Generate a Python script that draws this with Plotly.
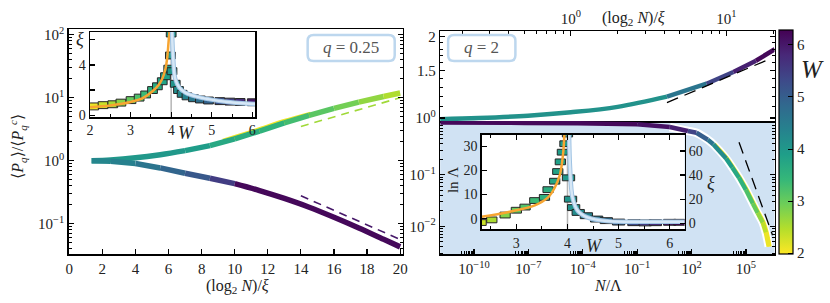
import plotly.graph_objects as go

FIG_W, FIG_H = 830, 303
FONT = "Liberation Serif, DejaVu Serif, serif"

# ---------------- data ----------------
W_LO, W_HI = 1.98, 6.28          # colour range of disorder W
W_TICKS = [2, 3, 4, 5, 6]
W_C = 4.0                        # critical W (grey line in insets)

# left panel (q = 0.25): (log2 N)/xi  vs <P_q>/<P_q^c>
up_x = [1.35, 2.5, 4.0, 5.5, 7.0, 8.5, 10.0, 11.5, 13.0, 14.5, 16.0, 17.5, 19.0, 20.0]
up_y = [1.0, 1.028, 1.109, 1.245, 1.445, 1.738, 2.213, 2.951, 3.981, 5.248, 6.761, 8.511, 10.47, 11.89]
up_w = [4.0, 4.0, 4.0, 4.0, 3.9, 3.7, 3.6, 3.5, 3.3, 3.1, 2.9, 2.7, 2.5]   # per segment
yel_x = [9.3, 11.5, 13.0, 14.6]
yel_y = [2.05, 3.1, 4.2, 5.5]
YEL_W = 2.05
lo_x = [1.35, 2.5, 4.0, 5.5, 7.0, 8.5, 10.0, 11.5, 13.0, 14.5, 16.0, 17.5, 19.0, 20.0]
lo_y = [1.0, 0.977, 0.902, 0.767, 0.631, 0.525, 0.431, 0.335, 0.251, 0.182, 0.126, 0.0851, 0.0562, 0.0427]
lo_w = [4.3, 4.4, 4.6, 4.9, 5.1, 5.5, 6.2, 6.2, 6.2, 6.2, 6.2, 6.2, 6.2]
dash_up_x = [14.0, 20.0]
dash_up_y = [3.5, 10.0]
DASH_UP_W = 2.6
dash_lo_x = [14.0, 20.0]
dash_lo_y = [0.277, 0.056]
DASH_LO_W = 6.0

# left inset: xi vs W
li_w = [2.09, 2.32, 2.56, 2.76, 3.01, 3.21, 3.37, 3.54, 3.66, 3.78, 3.86, 3.94, 3.98, 4.0,
        4.02, 4.1, 4.18, 4.27, 4.39, 4.55, 4.72, 4.92, 5.2, 5.45, 5.7, 6.0]
li_xi = [0.7, 0.8, 0.87, 1.0, 1.2, 1.4, 1.65, 2.0, 2.3, 2.7, 3.1, 3.7, 4.75, 6.5,
         3.5, 2.5, 2.0, 1.7, 1.5, 1.35, 1.25, 1.17, 1.12, 1.08, 1.05, 1.03]
li_fit_l_w = [2.0, 2.5, 3.0, 3.3, 3.54, 3.7, 3.78, 3.86, 3.9, 3.94, 3.96]
li_fit_l_xi = [0.64, 0.78, 1.05, 1.35, 1.9, 2.45, 2.9, 3.7, 4.5, 6.0, 6.7]
li_fit_r_w = [4.02, 4.05, 4.1, 4.2, 4.35, 4.6, 4.92, 5.4, 6.07]
li_fit_r_xi = [6.7, 4.5, 2.9, 2.2, 1.8, 1.5, 1.28, 1.05, 0.9]

# right top panel (q = 2): (log2 N)/xi vs ratio
ru_x = [0.144, 0.255, 0.53, 1.0, 2.0, 4.15, 7.46, 11.1, 15.5, 20.5]
ru_y = [0.99, 1.0, 1.02, 1.05, 1.10, 1.20, 1.34, 1.48, 1.63, 1.80]
ru_w = [4.1, 4.1, 4.1, 4.1, 4.1, 4.6, 5.4, 5.9, 6.2]
ru_dash_x = [4.15, 18.8]
ru_dash_y = [1.14, 1.65]

# right bottom panel: log10(N/Lambda) vs log10(ratio)
rl_lx = [-11.86, -8.0, -4.27, -1.0, 0.8, 1.8, 2.27, 2.9, 3.2, 3.91, 4.25, 4.62, 5.0, 5.38, 5.65, 5.93, 6.1, 6.26]
rl_ly = [0.012, 0.008, 0.0, -0.02, -0.074, -0.15, -0.185, -0.32, -0.407, -0.685, -0.86, -1.056, -1.29,
         -1.556, -1.74, -1.926, -2.12, -2.39]
rl_w = [6.2, 6.2, 6.2, 6.1, 5.9, 5.4, 5.0, 4.6, 4.2, 3.9, 3.7, 3.5, 3.2, 3.0, 2.7, 2.4, 2.1]
rl_dash_lx = [4.62, 6.47]
rl_dash_ly = [-0.37, -2.17]

# right inset: ln Lambda (left axis) and xi (right axis) vs W
ri_sq_w = [2.31, 2.52, 2.78, 3.0, 3.17, 3.36, 3.55, 3.62, 3.75, 3.81, 3.86, 3.9, 3.95, 4.0]
ri_sq_lnl = [-1.6, -0.5, 1.5, 3.5, 4.8, 7.5, 8.8, 12.0, 15.5, 19.5, 23.5, 27.5, 31.0, 35.0]
ri_xi_w = [4.02, 4.06, 4.12, 4.21, 4.37, 4.57, 4.76, 5.0, 5.3, 5.52, 5.72, 6.0, 6.2]
ri_xi = [37.7, 20.0, 13.0, 9.0, 6.3, 3.5, 2.2, 1.0, 0.5, 0.3, 0.5, 0.8, 0.8]
ri_fit_l_w = [2.32, 2.85, 3.36, 3.62, 3.75, 3.85, 3.91, 3.94]
ri_fit_l_lnl = [0.8, 2.8, 5.5, 8.8, 12.8, 18.0, 26.0, 35.0]
ri_fit_r_w = [4.03, 4.05, 4.1, 4.2, 4.39, 4.77, 5.35, 6.29]
ri_fit_r_xi = [75.0, 46.0, 21.0, 10.4, 4.9, 1.8, 1.3, 1.2]

# tick labels
LEFT_Y_TICKS = [0.1, 1, 10, 100]
LEFT_Y_TEXT = ["10<sup>−1</sup>", "10<sup>0</sup>", "10<sup>1</sup>", "10<sup>2</sup>"]
TOP_X_TICKS = [1, 10]
TOP_X_TEXT = ["10<sup>0</sup>", "10<sup>1</sup>"]
RU_Y_TICKS = [1, 1.5, 2]
RU_Y_TEXT = ["10<sup>0</sup>", "1.5", "2"]
RL_X_EXP = [-10, -7, -4, -1, 2, 5]
RL_Y_TICKS = [0.01, 0.1]
RL_Y_TEXT = ["10<sup>−2</sup>", "10<sup>−1</sup>"]

# ---------------- helpers ----------------
VIRIDIS = ['#440154', '#482878', '#3e4989', '#31688e', '#26828e',
           '#1f9e89', '#35b779', '#6ece58', '#b5de2b', '#fde725']


def hex2rgb(h):
    return tuple(int(h[i:i + 2], 16) for i in (1, 3, 5))


def wcolor(w):
    t = (W_HI - w) / (W_HI - W_LO)
    t = min(max(t, 0.0), 1.0)
    n = len(VIRIDIS) - 1
    i = min(int(t * n), n - 1)
    f = t * n - i
    a, b = hex2rgb(VIRIDIS[i]), hex2rgb(VIRIDIS[i + 1])
    return "rgb(%d,%d,%d)" % tuple(round(a[k] + (b[k] - a[k]) * f) for k in range(3))


def px(x):
    return x / FIG_W


def py(y):
    return 1 - y / FIG_H


fig = go.Figure()


def colored_line(xs, ys, ws, xa, ya, width):
    n = len(xs)
    j = 0
    while j < n - 1:
        k = j
        while k + 1 < n - 1 and ws[k + 1] == ws[j]:
            k += 1
        fig.add_trace(go.Scatter(x=xs[j:k + 2], y=ys[j:k + 2], mode="lines",
                                 line=dict(color=wcolor(ws[j]), width=width, shape="spline"),
                                 xaxis=xa, yaxis=ya, hoverinfo="skip"))
        j = k + 1


def line(xs, ys, xa, ya, color, width, dash="solid", shape="linear"):
    fig.add_trace(go.Scatter(x=xs, y=ys, mode="lines",
                             line=dict(color=color, width=width, dash=dash, shape=shape),
                             xaxis=xa, yaxis=ya, hoverinfo="skip"))


def rect_markers(ws, vals, h, wd, xa, ya):
    fig.add_trace(go.Bar(x=ws, y=[h] * len(ws), base=[v - h / 2 for v in vals], width=wd,
                         marker=dict(color=ws, coloraxis="coloraxis",
                                     line=dict(color="#262626", width=1)),
                         xaxis=xa, yaxis=ya, cliponaxis=False, hoverinfo="skip"))


ORANGE = "#f7a531"
LBLUE_IN = "#d6e7f6"
LBLUE_OUT = "#9fc3e3"

# ---------------- left panel ----------------
line(yel_x, yel_y, "x", "y", wcolor(YEL_W), 5, shape="spline")
colored_line(up_x, up_y, up_w, "x", "y", 5.5)
colored_line(lo_x, lo_y, lo_w, "x", "y", 5.5)
line(dash_up_x, dash_up_y, "x", "y", wcolor(DASH_UP_W), 1.6, dash="8px,6px")
line(dash_lo_x, dash_lo_y, "x", "y", wcolor(DASH_LO_W), 1.6, dash="8px,6px")

# left inset
rect_markers(li_w, li_xi, 0.55, 0.24, "x2", "y2")
line(li_fit_l_w, li_fit_l_xi, "x2", "y2", ORANGE, 2.5, shape="spline")
line(li_fit_r_w, li_fit_r_xi, "x2", "y2", LBLUE_OUT, 4.5, shape="spline")
line(li_fit_r_w, li_fit_r_xi, "x2", "y2", LBLUE_IN, 2.5, shape="spline")

# ---------------- right top ----------------
colored_line(ru_x, ru_y, ru_w, "x3", "y3", 4.5)
line(ru_dash_x, ru_dash_y, "x3", "y3", "black", 1.3, dash="12px,7px")

# ---------------- right bottom ----------------
rl_x = [10 ** v for v in rl_lx]
rl_y = [10 ** v for v in rl_ly]
line(rl_x[4:], rl_y[4:], "x4", "y4", "white", 8.5, shape="spline")
line([10 ** (v + 0.05) for v in rl_lx[8:]], rl_y[8:], "x4", "y4", wcolor(2.0), 4, shape="spline")
colored_line(rl_x, rl_y, rl_w, "x4", "y4", 4.5)
line([10 ** v for v in rl_dash_lx], [10 ** v for v in rl_dash_ly], "x4", "y4", "black", 1.3, dash="12px,7px")

# right inset
rect_markers(ri_sq_w, ri_sq_lnl, 2.4, 0.2, "x5", "y5")
rect_markers(ri_xi_w, ri_xi, 4.9, 0.24, "x5", "y6")
line(ri_fit_l_w, ri_fit_l_lnl, "x5", "y5", ORANGE, 2.5, shape="spline")
line(ri_fit_r_w, ri_fit_r_xi, "x5", "y6", LBLUE_OUT, 4.5, shape="spline")
line(ri_fit_r_w, ri_fit_r_xi, "x5", "y6", LBLUE_IN, 2.5, shape="spline")

# ---------------- axes ----------------
TICKFONT = dict(family=FONT, size=15, color="#222")
INFONT = dict(family=FONT, size=14, color="#222")


def ax(**kw):
    base = dict(showline=True, linecolor="black", linewidth=1.5, ticks="inside", ticklen=5,
                tickwidth=1.2, tickcolor="black", showgrid=False, zeroline=False,
                tickfont=TICKFONT, mirror=True)
    base.update(kw)
    return base


def minor(vals, ln=3):
    return dict(tickmode="array", tickvals=vals, ticks="inside", ticklen=ln,
                tickcolor="black", tickwidth=1, showgrid=False)


dec_minor = lambda e0, e1: [k * 10.0 ** e for e in range(e0, e1) for k in range(2, 10)]

layout_axes = dict(
    xaxis=ax(domain=[px(65.5), px(403)], range=[-0.03, 20.15], tickvals=list(range(0, 21, 2)),
             anchor="y"),
    yaxis=ax(domain=[py(259), py(26)], type="log", range=[-1.49, 2.09], tickvals=LEFT_Y_TICKS,
             ticktext=LEFT_Y_TEXT, anchor="x", mirror="ticks", minor=minor(dec_minor(-2, 3))),
    xaxis2=ax(domain=[px(87), px(254)], range=[2, 6.073], tickvals=W_TICKS, anchor="y2",
              tickfont=INFONT, minor=minor([2.5, 3.5, 4.5, 5.5])),
    yaxis2=ax(domain=[py(117), py(29)], range=[-0.154, 6.615], tickvals=[0, 2, 4, 6],
              ticktext=["0", "", "4", ""], anchor="x2", tickfont=INFONT),
    xaxis3=ax(domain=[px(441), px(779)], type="log", range=[-0.84, 1.31], side="top",
              tickvals=TOP_X_TICKS, ticktext=TOP_X_TEXT, anchor="y3",
              minor=minor(dec_minor(-1, 2))),
    yaxis3=ax(domain=[py(121), py(28)], type="log", range=[-0.011, 0.322], tickvals=RU_Y_TICKS,
              ticktext=RU_Y_TEXT, anchor="x3", mirror="ticks",
              minor=minor([1.1, 1.2, 1.3, 1.4, 1.6, 1.7, 1.8, 1.9])),
    xaxis4=ax(domain=[px(441), px(779)], type="log", range=[-11.86, 6.58],
              tickvals=[10.0 ** e for e in RL_X_EXP],
              ticktext=["10<sup>%s</sup>" % (str(e).replace("-", "−")) for e in RL_X_EXP],
              anchor="y4", mirror=False,
              minor=minor([k * 10.0 ** (m - 1) for m in RL_X_EXP for k in range(2, 10)])),
    yaxis4=ax(domain=[py(259), py(121)], type="log", range=[-2.544, 0.043], tickvals=RL_Y_TICKS,
              ticktext=RL_Y_TEXT, anchor="x4", mirror="ticks", minor=minor(dec_minor(-3, 0))),
    xaxis5=ax(domain=[px(483), px(688)], range=[2.323, 6.29], tickvals=[3, 4, 5, 6], anchor="y5",
              tickfont=INFONT, mirror="ticks", minor=minor([2.5, 3.5, 4.5, 5.5])),
    yaxis5=ax(domain=[py(233), py(135)], range=[-4.4, 34.8], tickvals=[0, 10, 20, 30],
              anchor="x5", tickfont=INFONT, mirror=False),
    yaxis6=ax(range=[-5.0, 73.6], tickvals=[0, 20, 40, 60], anchor="x5", overlaying="y5",
              side="right", tickfont=INFONT, mirror=False),
)


# ---------------- shapes ----------------
def rounded_box(x0, y0, x1, y1, r):
    P = lambda x, y: "%.5f,%.5f" % (x / FIG_W, 1 - y / FIG_H)
    return ("M" + P(x0 + r, y0) + " L" + P(x1 - r, y0) + " Q" + P(x1, y0) + " " + P(x1, y0 + r) +
            " L" + P(x1, y1 - r) + " Q" + P(x1, y1) + " " + P(x1 - r, y1) +
            " L" + P(x0 + r, y1) + " Q" + P(x0, y1) + " " + P(x0, y1 - r) +
            " L" + P(x0, y0 + r) + " Q" + P(x0, y0) + " " + P(x0 + r, y0) + " Z")


shapes = [
    dict(type="rect", xref="paper", yref="paper", x0=px(441), x1=px(779), y0=py(259), y1=py(121),
         fillcolor="rgb(208,226,243)", line=dict(width=0), layer="below"),
    dict(type="rect", xref="paper", yref="paper", x0=px(483), x1=px(688), y0=py(233), y1=py(135),
         fillcolor="white", line=dict(width=0), layer="below"),
    dict(type="line", xref="x2", yref="y2 domain", x0=W_C, x1=W_C, y0=0, y1=1,
         line=dict(color="#b5b5b5", width=1.5), layer="below"),
    dict(type="line", xref="x5", yref="y5 domain", x0=W_C, x1=W_C, y0=0, y1=1,
         line=dict(color="#b5b5b5", width=1.5), layer="below"),
    dict(type="path", xref="paper", yref="paper", path=rounded_box(307, 32, 395, 59, 6),
         line=dict(color="#bdd7ee", width=2.5)),
    dict(type="path", xref="paper", yref="paper", path=rounded_box(449, 32, 517, 59, 6),
         line=dict(color="#bdd7ee", width=2.5)),
]


# ---------------- annotations ----------------
def note(text, x, y, size=16, angle=0, color="#222"):
    return dict(text=text, x=px(x), y=py(y), xref="paper", yref="paper", showarrow=False,
                xanchor="center", yanchor="middle", textangle=angle,
                font=dict(family=FONT, size=size, color=color))


annotations = [
    note("⟨<i>P</i><sub><i>q</i></sub>⟩/⟨<i>P</i><sub><i>q</i></sub><sup><i>c</i></sup>⟩", 14, 147, 16, -90),
    note("(log<sub>2</sub> <i>N</i>)/<i>ξ</i>", 236, 292, 16),
    note("(log<sub>2</sub> <i>N</i>)/<i>ξ</i>", 636, 15, 16),
    note("<i>N</i>/Λ", 611, 291, 16),
    note("<i>W</i>", 184, 133, 18),
    note("<i>ξ</i>", 77, 36, 18),
    note("<i>W</i>", 597, 250, 18),
    note("ln Λ", 454, 182, 15, -90),
    note("<i>ξ</i>", 715, 185, 18),
    note("<i>W</i>", 817, 68, 25),
    note("<i>q</i> = 0.25", 351, 45.5, 17, color="#555"),
    note("<i>q</i> = 2", 483, 45.5, 17, color="#555"),
]

fig.update_layout(
    width=FIG_W, height=FIG_H, autosize=False,
    margin=dict(l=0, r=0, t=0, b=0),
    paper_bgcolor="white", plot_bgcolor="rgba(0,0,0,0)",
    showlegend=False, barmode="overlay", hovermode=False,
    font=dict(family=FONT, size=15, color="#222"),
    coloraxis=dict(colorscale="Viridis", reversescale=True, cmin=W_LO, cmax=W_HI,
                   colorbar=dict(x=px(783), xanchor="left", xref="paper", y=py(143),
                                 yanchor="middle", len=232 / FIG_H, lenmode="fraction",
                                 thickness=14, thicknessmode="pixels", xpad=0, ypad=0,
                                 outlinewidth=1.2, outlinecolor="black",
                                 tickvals=W_TICKS, ticks="inside", ticklen=5, tickcolor="black",
                                 tickfont=dict(family=FONT, size=15, color="#222"))),
    shapes=shapes, annotations=annotations,
    **layout_axes,
)

fig.write_html("out.html", config={"displayModeBar": False, "staticPlot": True},
               post_script="document.body.style.margin='0';document.body.style.padding='0';")
